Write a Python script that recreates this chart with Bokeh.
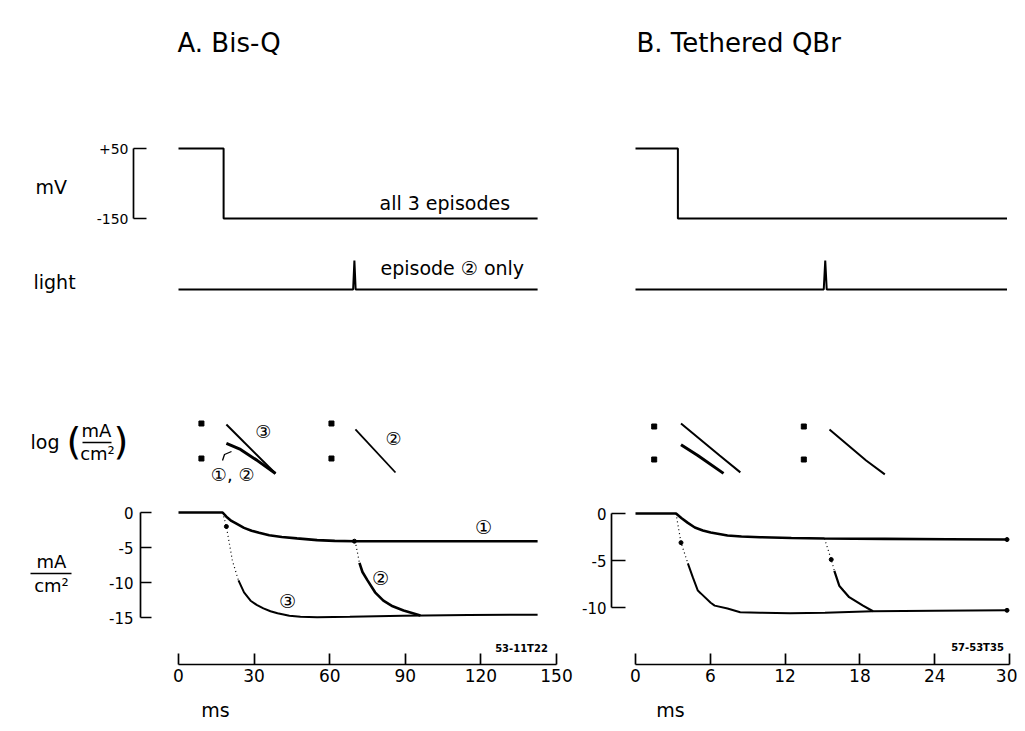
from bokeh.plotting import figure
from bokeh.models import Range1d, LinearAxis, FixedTicker
from bokeh.core.properties import value
from bokeh.embed import file_html
from bokeh.resources import INLINE

# ---------------- data ----------------
titles = ["A.  Bis-Q", "B.  Tethered  QBr"]

tA_ticks = [0, 30, 60, 90, 120, 150]
tB_ticks = [0, 6, 12, 18, 24, 30]
mv_ticks = [-150, 50]
mv_tick_labels = ["-150", "+50"]
iA_ticks = [0, -5, -10, -15]
iB_ticks = [0, -5, -10]

# voltage command (mV)
vA_t = [0, 17.9, 17.9, 142.5]
vA_mv = [50, 50, -150, -150]
vB_t = [0, 3.4, 3.4, 29.8]
vB_mv = [50, 50, -150, -150]

# light flash (arbitrary units)
lightA_t = [0, 69.3, 69.8, 70.3, 142.5]
lightA = [0, 0, 1, 0, 0]
lightB_t = [0, 15.1, 15.22, 15.34, 29.8]
lightB = [0, 0, 1, 0, 0]

# semilog relaxations (log10 units)
logA_mark_t = [9.1, 9.1, 60.7, 60.7]
logA_mark = [1, 0, 1, 0]
log3A_t = [19.0, 38.5]
log3A = [0.97, -0.43]
log12A_t = [19.0, 24.6, 31.3, 38.5]
log12A = [0.43, 0.26, -0.06, -0.43]
log2A_t = [70.2, 86.1]
log2A = [0.83, -0.40]

logB_mark_t = [1.5, 1.5, 13.5, 13.5]
logB_mark = [1, 0, 1, 0]
log3B_t = [3.65, 6.75, 8.41]
log3B = [1.09, 0.12, -0.39]
log12B_t = [3.65, 5.0, 7.06]
log12B = [0.45, 0.12, -0.42]
log2B_t = [15.56, 18.5, 20.0]
log2B = [0.91, -0.03, -0.45]

# currents (mA/cm2), panel A
ep1A_t = [0, 17.5, 19.0, 21, 23, 26, 29, 32, 36, 41, 47, 55, 62, 70, 100, 142.5]
ep1A_i = [0, 0, -0.6, -1.2, -1.6, -2.2, -2.6, -2.9, -3.25, -3.5, -3.7, -3.95, -4.05, -4.1, -4.1, -4.1]
ep3A_fast_t = [17.5, 19.0, 21.4, 23.8]
ep3A_fast_i = [0, -2.0, -6.9, -9.7]
ep3A_t = [23.8, 26, 28.6, 31, 33.7, 36.5, 39.3, 44, 48.4, 55, 68, 89, 115, 142.5]
ep3A_i = [-9.7, -11.4, -12.6, -13.2, -13.7, -14.1, -14.4, -14.75, -14.9, -14.95, -14.9, -14.75, -14.65, -14.6]
ep2A_fast_t = [69.8, 70.4, 71.8]
ep2A_fast_i = [-4.1, -4.6, -7.2]
ep2A_t = [71.8, 73, 75, 78, 81.3, 85, 89.3, 96]
ep2A_i = [-7.2, -8.5, -9.7, -11.4, -12.6, -13.4, -14.0, -14.7]
dotsA_t = [19.0, 69.8]
dotsA_i = [-2.0, -4.1]

# currents (mA/cm2), panel B
ep1B_t = [0, 3.25, 3.7, 4.2, 4.76, 5.4, 6.03, 7.38, 8.5, 10, 12.5, 15.16, 20, 25, 29.8]
ep1B_i = [0, 0, -0.5, -1.0, -1.49, -1.8, -2.02, -2.34, -2.45, -2.52, -2.6, -2.66, -2.7, -2.74, -2.77]
ep3B_fast_t = [3.25, 3.65, 4.2]
ep3B_fast_i = [0, -3.1, -5.3]
ep3B_t = [4.2, 4.6, 5.0, 5.24, 6.03, 6.35, 7.38, 8.4, 10, 12.4, 15.2, 19.0, 24, 29.8]
ep3B_i = [-5.3, -6.8, -8.2, -8.5, -9.5, -9.8, -10.1, -10.5, -10.55, -10.6, -10.55, -10.4, -10.35, -10.3]
ep2B_fast_t = [15.16, 15.7, 15.95]
ep2B_fast_i = [-2.66, -4.9, -6.1]
ep2B_t = [15.95, 16.35, 16.67, 17.14, 18.25, 19.05]
ep2B_i = [-6.1, -7.7, -8.2, -8.9, -9.8, -10.4]
dotsB_t = [3.65, 15.7, 29.8, 29.8]
dotsB_i = [-3.1, -4.9, -2.77, -10.3]

# ---------------- layout helpers ----------------
W, H = 1017, 723
FX0, FX1 = 0, W
FY0, FY1 = 0, H
FONT = "DejaVu Sans"


def xr(v0, p0, v1, p1):
    s = (p1 - p0) / (v1 - v0)
    return Range1d(start=v0 + (FX0 - p0) / s, end=v0 + (FX1 - p0) / s)


def yr(v0, q0, v1, q1):
    s = (q1 - q0) / (v1 - v0)
    return Range1d(start=v0 + (FY1 - q0) / s, end=v0 + (FY0 - q0) / s)


def x_at(r, px):
    return r.start + (px - FX0) / (FX1 - FX0) * (r.end - r.start)


def y_at(r, py):
    return r.start + (FY1 - py) / (FY1 - FY0) * (r.end - r.start)


rng_x = {
    "tA": xr(0, 178, 150, 556),
    "tB": xr(0, 635, 30, 1009),
}
rng_y = {
    "mv": yr(50, 148, -150, 218),
    "light": yr(0, 289, 1, 260),
    "logA": yr(1, 423, 0, 458),
    "logB": yr(1, 426, 0, 459),
    "iA": yr(0, 512, -15, 617),
    "iB": yr(0, 513, -10, 607),
}

p = figure(width=W, height=H, x_range=Range1d(FX0, FX1), y_range=Range1d(FY1, FY0),
           x_axis_type=None, y_axis_type=None, toolbar_location=None,
           output_backend="svg", min_border=0, outline_line_color=None)
p.extra_x_ranges = rng_x
p.extra_y_ranges = rng_y
p.background_fill_color = "white"
p.border_fill_color = "white"


def add_axis(side, xname, yname, loc, ticks, labels, tick_in, fsize, standoff):
    ax = LinearAxis(x_range_name=xname, y_range_name=yname, fixed_location=loc,
                    ticker=FixedTicker(ticks=ticks, minor_ticks=[]),
                    bounds=(min(ticks), max(ticks)),
                    major_tick_in=tick_in, major_tick_out=0,
                    minor_tick_in=0, minor_tick_out=0,
                    axis_line_width=1.7, major_tick_line_width=1.7,
                    axis_line_color="black", major_tick_line_color="black",
                    major_label_standoff=standoff,
                    major_label_text_font=FONT,
                    major_label_text_font_size=fsize,
                    major_label_text_color="black",
                    major_label_overrides={t: l for t, l in zip(ticks, labels)})
    p.add_layout(ax, side)


# axes
add_axis("left", "tA", "mv", x_at(rng_x["tA"], 133), mv_ticks, mv_tick_labels, 13, "14px", 5)
add_axis("left", "tA", "iA", x_at(rng_x["tA"], 140), iA_ticks, [str(t) for t in iA_ticks], 11, "15px", 7)
add_axis("left", "tB", "iB", x_at(rng_x["tB"], 611), iB_ticks, [str(t) for t in iB_ticks], 14, "15px", 5)
add_axis("below", "tA", "iA", y_at(rng_y["iA"], 664), tA_ticks, [str(t) for t in tA_ticks], 11, "17px", 4)
add_axis("below", "tB", "iB", y_at(rng_y["iB"], 664), tB_ticks, [str(t) for t in tB_ticks], 11, "17px", 4)

# voltage and light traces
for tn, t, v in (("tA", vA_t, vA_mv), ("tB", vB_t, vB_mv)):
    p.line(t, v, x_range_name=tn, y_range_name="mv", line_color="black", line_width=2)
for tn, t, v in (("tA", lightA_t, lightA), ("tB", lightB_t, lightB)):
    p.line(t, v, x_range_name=tn, y_range_name="light", line_color="black", line_width=2)

# semilog panels
for tn, yn, mt, mv in (("tA", "logA", logA_mark_t, logA_mark), ("tB", "logB", logB_mark_t, logB_mark)):
    p.scatter(mt, mv, x_range_name=tn, y_range_name=yn, marker="square", size=5,
              color="black")
p.line(log3A_t, log3A, x_range_name="tA", y_range_name="logA", line_color="black", line_width=2)
p.line(log12A_t, log12A, x_range_name="tA", y_range_name="logA", line_color="black", line_width=3)
p.line(log2A_t, log2A, x_range_name="tA", y_range_name="logA", line_color="black", line_width=1.8)
p.line(log3B_t, log3B, x_range_name="tB", y_range_name="logB", line_color="black", line_width=2)
p.line(log12B_t, log12B, x_range_name="tB", y_range_name="logB", line_color="black", line_width=3)
p.line(log2B_t, log2B, x_range_name="tB", y_range_name="logB", line_color="black", line_width=2)

# current traces
DOT = "1 3"
for tn, yn, sets in (
    ("tA", "iA", [(ep1A_t, ep1A_i, 2.6, None), (ep3A_fast_t, ep3A_fast_i, 1.2, DOT),
                  (ep3A_t, ep3A_i, 2.0, None), (ep2A_fast_t, ep2A_fast_i, 1.2, DOT),
                  (ep2A_t, ep2A_i, 2.6, None)]),
    ("tB", "iB", [(ep1B_t, ep1B_i, 2.6, None), (ep3B_fast_t, ep3B_fast_i, 1.2, DOT),
                  (ep3B_t, ep3B_i, 2.0, None), (ep2B_fast_t, ep2B_fast_i, 1.2, DOT),
                  (ep2B_t, ep2B_i, 2.2, None)]),
):
    for t, i, w, dash in sets:
        kw = dict(x_range_name=tn, y_range_name=yn, line_color="black", line_width=w)
        if dash:
            kw["line_dash"] = dash
        p.line(t, i, **kw)
p.scatter(dotsA_t, dotsA_i, x_range_name="tA", y_range_name="iA", size=4, color="black")
p.scatter(dotsB_t, dotsB_i, x_range_name="tB", y_range_name="iB", size=4, color="black")

# circled episode labels in data coordinates
txt = dict(text_font=value(FONT), text_color="black", text_align="center",
           text_baseline="middle")
p.text([121, 80.2, 43.3], [-2.0, -9.3, -12.6], text=["\u2460", "\u2461", "\u2462"],
       x_range_name="tA", y_range_name="iA", text_font_size="19px", **txt)
p.text([33.7, 85.3], [0.77, 0.57], text=["\u2462", "\u2461"],
       x_range_name="tA", y_range_name="logA", text_font_size="18px", **txt)
p.text([21.5], [-0.45], text=["\u2460, \u2461"],
       x_range_name="tA", y_range_name="logA", text_font_size="18px", **txt)
p.line([222, 224, 231], [460, 454, 451], line_color="black", line_width=1.3)

# titles and side labels (page coordinates)
left = dict(text_font=value(FONT), text_color="black", text_align="left",
            text_baseline="middle")
p.text([177, 636], [42, 42], text=titles, text_font_size="26px", **left)
p.text([35, 33, 30], [186, 281, 441], text=["mV", "light", "log"], text_font_size="19px", **left)
p.text([379, 380], [202, 267], text=["all 3 episodes", "episode \u2461 only"],
       text_font_size="19px", **left)
p.text([66, 113], [440, 440], text=["(", ")"], text_font_size="38px", **left)
p.text([96, 97, 51, 51], [430, 453, 561, 585], text=["mA", "cm\u00b2", "mA", "cm\u00b2"],
       text_font_size="18px", **txt)
p.segment([82, 30], [442, 573], [111, 71], [442, 573], line_color="black", line_width=1.6)
p.text([521, 977], [648, 647], text=["53-11T22", "57-53T35"], text_font_size="10px",
       text_font_style="bold", **txt)
p.text([215, 670], [709, 709], text=["ms", "ms"], text_font_size="19px", **txt)

open("out.html", "w").write(file_html(p, INLINE))
